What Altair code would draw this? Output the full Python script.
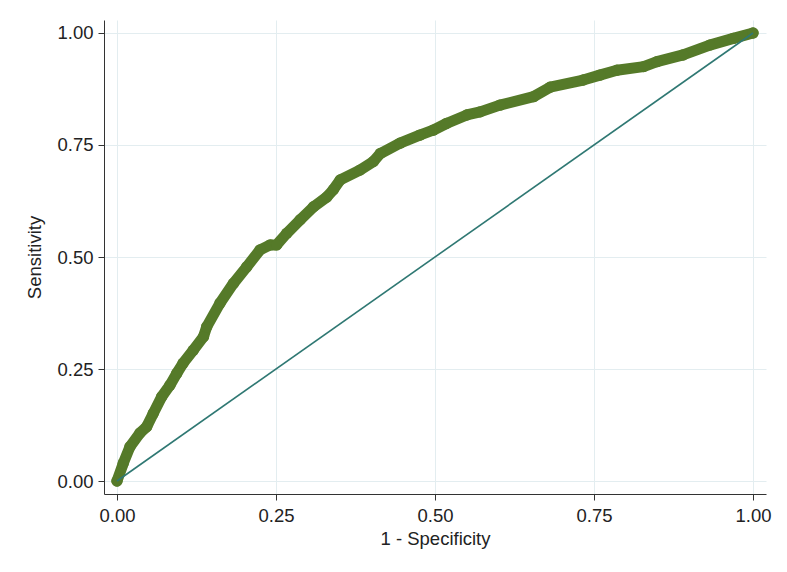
import altair as alt
import pandas as pd

# ROC curve points (1 - specificity, sensitivity)
fpr = [0.0, 0.0099, 0.0204, 0.0362, 0.0467, 0.0571, 0.0703, 0.0833, 0.0939, 0.104,
       0.120, 0.136, 0.141, 0.162, 0.183, 0.204, 0.225, 0.241, 0.251, 0.267,
       0.288, 0.309, 0.330, 0.340, 0.351, 0.382, 0.403, 0.414, 0.445, 0.476,
       0.497, 0.518, 0.550, 0.571, 0.602, 0.655, 0.681, 0.733, 0.759, 0.786,
       0.828, 0.849, 0.890, 0.932, 0.969, 1.0]
tpr = [0.0, 0.0395, 0.0766, 0.107, 0.121, 0.151, 0.188, 0.214, 0.240, 0.263,
       0.292, 0.322, 0.344, 0.397, 0.441, 0.478, 0.516, 0.527, 0.527, 0.553,
       0.583, 0.612, 0.634, 0.650, 0.672, 0.694, 0.713, 0.731, 0.754, 0.772,
       0.783, 0.798, 0.817, 0.824, 0.839, 0.858, 0.879, 0.895, 0.906, 0.917,
       0.925, 0.936, 0.951, 0.973, 0.988, 1.0]

ref_x = [0.0, 1.0]
ref_y = [0.0, 1.0]

tick_vals = [0.0, 0.25, 0.5, 0.75, 1.0]

roc = pd.DataFrame({"fpr": fpr, "tpr": tpr, "order": list(range(len(fpr)))})
ref = pd.DataFrame({"fpr": ref_x, "tpr": ref_y})

FONT = "Liberation Sans"
CURVE = "#557a29"
REF = "#2f7873"
GRID = "#e3edf0"

xscale = alt.Scale(domain=[-0.0204, 1.0204], nice=False, zero=False)
yscale = alt.Scale(domain=[-0.029, 1.029], nice=False, zero=False)

xaxis = alt.Axis(values=tick_vals, format=".2f", title="1 - Specificity",
                 grid=True, gridColor=GRID, gridWidth=1,
                 domainColor="#333333", tickColor="#333333", tickSize=6,
                 labelFont=FONT, labelFontSize=18.5, labelColor="#222222",
                 labelPadding=6, titleFont=FONT, titleFontSize=18.5,
                 titleFontWeight="normal", titleColor="#222222", titlePadding=5)
yaxis = alt.Axis(values=tick_vals, format=".2f", title="Sensitivity",
                 grid=True, gridColor=GRID, gridWidth=1,
                 domainColor="#333333", tickColor="#333333", tickSize=6,
                 labelFont=FONT, labelFontSize=18.5, labelColor="#222222",
                 labelPadding=5, titleFont=FONT, titleFontSize=18.5,
                 titleFontWeight="normal", titleColor="#222222", titlePadding=12)

curve_line = alt.Chart(roc).mark_line(
    color=CURVE, strokeWidth=11, strokeCap="round", strokeJoin="round"
).encode(
    x=alt.X("fpr:Q", scale=xscale, axis=xaxis),
    y=alt.Y("tpr:Q", scale=yscale, axis=yaxis),
    order="order:Q",
)

curve_pts = alt.Chart(roc).mark_circle(color=CURVE, size=130, opacity=1).encode(
    x=alt.X("fpr:Q", scale=xscale),
    y=alt.Y("tpr:Q", scale=yscale),
)

ref_line = alt.Chart(ref).mark_line(color=REF, strokeWidth=1.6).encode(
    x=alt.X("fpr:Q", scale=xscale),
    y=alt.Y("tpr:Q", scale=yscale),
)

chart = alt.layer(curve_line, curve_pts, ref_line).properties(
    width=662, height=474,
    autosize=alt.AutoSizeParams(type="none"),
    padding={"left": 96, "top": 12, "right": 13, "bottom": 56},
    background="white",
).configure_view(stroke=None)

chart.save("out.html", embed_options={"renderer": "svg", "actions": False})
